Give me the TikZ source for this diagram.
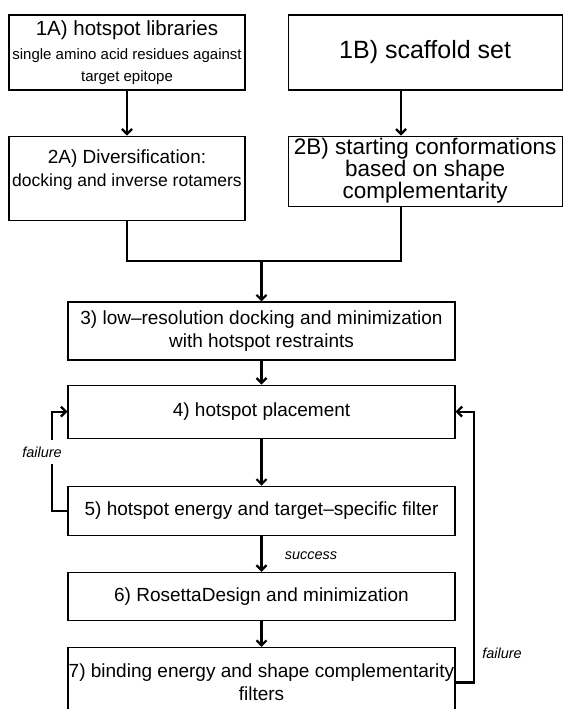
\documentclass[tikz,border=0pt]{standalone}
\usepackage{fontspec}
\setmainfont{Liberation Sans}
\usetikzlibrary{positioning,arrows.meta}

\begin{document}
\begin{tikzpicture}
[x=1pt, y=-1pt, node distance=24pt,
 box/.style={draw, line width=1.1pt, align=center, inner sep=0pt, minimum width=387pt,
   font=\fontsize{19}{23}\selectfont},
 link/.style={line width=2.2pt, -{Straight Barb[length=5pt,width=10pt]}},
 joint/.style={line width=2.2pt},
 note/.style={font=\fontsize{14.5}{16}\selectfont\itshape, inner sep=1pt}]
\useasboundingbox (0,0) rectangle (567,709);

% upper two columns
\node[box, minimum width=236pt, minimum height=75pt] (a1) at (127,52.5)
  {{\fontsize{20.5}{22}\selectfont 1A) hotspot libraries}\\[1pt]
   {\fontsize{15}{18}\selectfont single amino acid residues against}\\[-1pt]
   {\fontsize{15}{18}\selectfont target epitope}};
\node[box, minimum width=274pt, minimum height=75pt, right=42pt of a1,
  font=\fontsize{25}{28}\selectfont] (b1) {1B) scaffold set};
\node[box, minimum width=236pt, minimum height=84pt, below=45pt of a1] (a2)
  {2A) Diversification:\\ {\fontsize{17.5}{23}\selectfont docking and inverse rotamers}\\[-3pt]~};
\node[box, minimum width=274pt, minimum height=70pt, below=45pt of b1,
  font=\fontsize{22.5}{22}\selectfont] (b2)
  {2B) starting conformations\\ based on shape\\ complementarity};

% main column
\node[box, minimum height=58pt] (s3) at (261.5,331)
  {3) low--resolution docking and minimization\\ with hotspot restraints};
\node[box, minimum height=53pt, below=of s3] (s4) {4) hotspot placement};
\node[box, minimum height=49pt, below=47pt of s4] (s5) {5) hotspot energy and target--specific filter};
\node[box, minimum height=48pt, below=36pt of s5] (s6) {6) RosettaDesign and minimization};
\node[box, minimum height=70pt, below=26pt of s6] (s7)
  {7) binding energy and shape complementarity\\ filters};

\coordinate (cb) at (401,0);
\coordinate (m) at (261.5,261);
\coordinate (lf) at (52,0);
\coordinate (rf) at (474,0);

\draw[link] (a1) -- (a2);
\draw[link] (b1.south -| cb) -- (b2.north -| cb);
\draw[joint] (a2.south) |- (m) -| (b2.south -| cb);
\draw[link] (m) -- (s3);
\draw[link] (s3) -- (s4);
\draw[link] (s4) -- (s5);
\draw[link] (s5) -- (s6);
\draw[link] (s6) -- (s7);
\draw[link] (s5.west) -- (s5.west -| lf) |- (s4.west);
\draw[link] (s7.east) -- (s7.east -| rf) |- (s4.east);

\node[note, fill=white, inner ysep=7pt] (fl) at (42,452) {failure};
\node[note] (ok) at (311,556) {success};
\node[note] (fr) at (502,653) {failure};
\end{tikzpicture}
\end{document}
